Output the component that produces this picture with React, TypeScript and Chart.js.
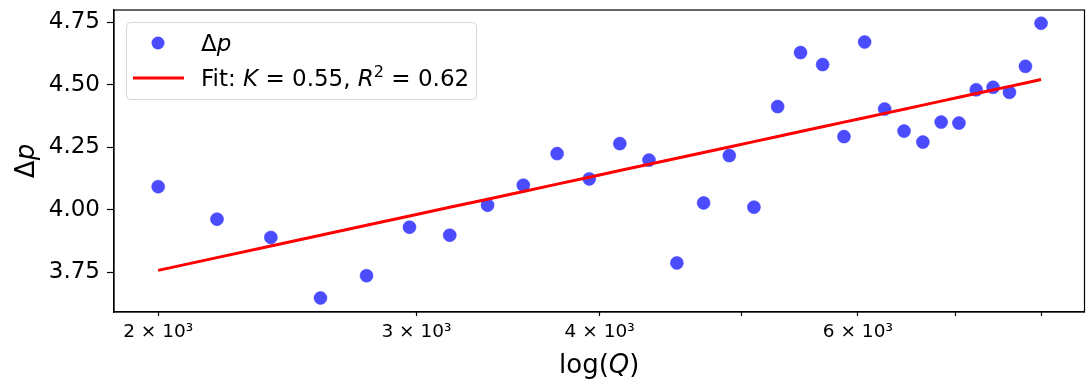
import React, { useEffect, useRef } from "react";
import { Chart, registerables } from "chart.js";

Chart.register(...registerables);

// Data
const Q_VALUES = [
  2000, 2193.5, 2387.1, 2580.6, 2774.2, 2967.7, 3161.3, 3354.8, 3548.4, 3741.9,
  3935.5, 4129.0, 4322.6, 4516.1, 4709.7, 4903.2, 5096.8, 5290.3, 5483.9, 5677.4,
  5871.0, 6064.5, 6258.1, 6451.6, 6645.2, 6838.7, 7032.3, 7225.8, 7419.4, 7612.9,
  7806.5, 8000,
];
const DP_VALUES = [
  4.093, 3.963, 3.89, 3.648, 3.737, 3.931, 3.899, 4.019, 4.099, 4.225,
  4.124, 4.265, 4.199, 3.788, 4.028, 4.217, 4.011, 4.413, 4.629, 4.581,
  4.293, 4.671, 4.403, 4.315, 4.271, 4.351, 4.347, 4.48, 4.49, 4.47,
  4.574, 4.746,
];
const FIT_K = 0.55;
const FIT_B = -0.422;
const FIT_R2 = 0.62;

const X_TICK_VALUES = [2000, 3000, 4000, 5000, 6000, 7000, 8000];
const X_TICK_LABELS = ["2 × 10³", "3 × 10³", "4 × 10³", "", "6 × 10³", "", ""];
const Y_TICK_VALUES = [3.75, 4.0, 4.25, 4.5, 4.75];

const FONT = "'DejaVu Sans', sans-serif";

type Seg = { t: string; it?: boolean; sup?: boolean };

function drawSegs(ctx: CanvasRenderingContext2D, segs: Seg[], x: number, y: number, size: number) {
  let cx = x;
  for (const s of segs) {
    const sz = s.sup ? size * 0.7 : size;
    ctx.font = `${s.it ? "italic " : ""}${sz}px ${FONT}`;
    const dy = s.sup ? -size * 0.38 : 0;
    ctx.fillText(s.t, cx, y + dy);
    cx += ctx.measureText(s.t).width;
  }
  return cx - x;
}

function segsWidth(ctx: CanvasRenderingContext2D, segs: Seg[], size: number) {
  let w = 0;
  for (const s of segs) {
    const sz = s.sup ? size * 0.7 : size;
    ctx.font = `${s.it ? "italic " : ""}${sz}px ${FONT}`;
    w += ctx.measureText(s.t).width;
  }
  return w;
}

const decorPlugin = {
  id: "decor",
  afterDraw(chart: any) {
    const ctx: CanvasRenderingContext2D = chart.ctx;
    const a = chart.chartArea;
    ctx.save();
    // frame
    ctx.strokeStyle = "#000";
    ctx.lineWidth = 1.2;
    ctx.strokeRect(a.left, a.top, a.right - a.left, a.bottom - a.top);

    // legend
    const lx = 126.5, ly = 22.5, lw = 350, lh = 77;
    ctx.beginPath();
    (ctx as any).roundRect(lx, ly, lw, lh, 4);
    ctx.fillStyle = "rgba(255,255,255,0.8)";
    ctx.fill();
    ctx.strokeStyle = "#d6d6d6";
    ctx.lineWidth = 1;
    ctx.stroke();

    ctx.beginPath();
    ctx.arc(158, 43, 6.5, 0, Math.PI * 2);
    ctx.fillStyle = "rgba(0,0,255,0.7)";
    ctx.fill();

    ctx.beginPath();
    ctx.moveTo(133, 78);
    ctx.lineTo(184, 78);
    ctx.strokeStyle = "#ff0000";
    ctx.lineWidth = 3;
    ctx.stroke();

    ctx.fillStyle = "#000";
    ctx.textBaseline = "alphabetic";
    ctx.textAlign = "left";
    const legSize = 23;
    drawSegs(ctx, [{ t: "Δ" }, { t: "p", it: true }], 201, 51, legSize);
    drawSegs(
      ctx,
      [
        { t: "Fit: " },
        { t: "K", it: true },
        { t: " = " + FIT_K.toFixed(2) + ", " },
        { t: "R", it: true },
        { t: "2", sup: true },
        { t: " = " + FIT_R2.toFixed(2) },
      ],
      201,
      86,
      legSize
    );

    // x axis title
    const titleSize = 26;
    const xt: Seg[] = [{ t: "log(" }, { t: "Q", it: true }, { t: ")" }];
    const xw = segsWidth(ctx, xt, titleSize);
    drawSegs(ctx, xt, (a.left + a.right) / 2 - xw / 2, 373, titleSize);

    // y axis title
    const yt: Seg[] = [{ t: "Δ" }, { t: "p", it: true }];
    const yw = segsWidth(ctx, yt, titleSize);
    ctx.translate(34, (a.top + a.bottom) / 2);
    ctx.rotate(-Math.PI / 2);
    drawSegs(ctx, yt, -yw / 2, 0, titleSize);
    ctx.restore();
  },
};

export default function App() {
  const ref = useRef<HTMLCanvasElement | null>(null);
  useEffect(() => {
    document.body.style.margin = "0";
    const canvas = ref.current!;
    const fitValues = Q_VALUES.map((q) => FIT_B + FIT_K * Math.log(q));
    const chart = new Chart(canvas, {
      type: "scatter",
      data: {
        datasets: [
          {
            label: "Fit",
            type: "line",
            data: Q_VALUES.map((q, i) => ({ x: q, y: fitValues[i] })),
            borderColor: "#ff0000",
            borderWidth: 3,
            pointRadius: 0,
            fill: false,
            order: 0,
          } as any,
          {
            label: "Δp",
            data: Q_VALUES.map((q, i) => ({ x: q, y: DP_VALUES[i] })),
            backgroundColor: "rgba(0,0,255,0.7)",
            borderColor: "rgba(60,60,255,0.5)",
            borderWidth: 1,
            pointRadius: 6.5,
            order: 1,
          },
        ],
      },
      options: {
        responsive: false,
        animation: false,
        layout: { padding: { top: 10, right: 2, left: 0, bottom: 0 } },
        plugins: { legend: { display: false }, tooltip: { enabled: false } },
        scales: {
          x: {
            type: "logarithmic",
            min: 1866,
            max: 8565,
            afterBuildTicks: (axis: any) => {
              axis.ticks = X_TICK_VALUES.map((v) => ({ value: v }));
            },
            afterFit: (s: any) => {
              s.height = 72;
              s.paddingLeft = 0;
              s.paddingRight = 0;
            },
            ticks: {
              autoSkip: false,
              maxRotation: 0,
              minRotation: 0,
              color: "#000",
              padding: 5,
              font: { family: FONT, size: 18.5 },
              callback: (v: any) => {
                const i = X_TICK_VALUES.indexOf(Number(v));
                return i >= 0 ? X_TICK_LABELS[i] : "";
              },
            },
            grid: {
              drawOnChartArea: false,
              drawTicks: true,
              tickLength: 4,
              tickColor: "#000",
              tickWidth: 1.2,
            },
            border: { display: true, color: "#000", width: 1.2 },
          },
          y: {
            type: "linear",
            min: 3.592,
            max: 4.799,
            afterBuildTicks: (axis: any) => {
              axis.ticks = Y_TICK_VALUES.map((v) => ({ value: v }));
            },
            afterFit: (s: any) => {
              s.width = 114;
              s.paddingTop = 0;
              s.paddingBottom = 0;
            },
            ticks: {
              color: "#000",
              padding: 7,
              font: { family: FONT, size: 23 },
              callback: (v: any) => Number(v).toFixed(2),
            },
            grid: {
              drawOnChartArea: false,
              drawTicks: true,
              tickLength: 7,
              tickColor: "#000",
              tickWidth: 1.2,
            },
            border: { display: true, color: "#000", width: 1.2 },
          },
        },
      },
      plugins: [decorPlugin],
    });
    return () => chart.destroy();
  }, []);
  return (
    <div style={{ position: "absolute", left: 0, top: 0, width: 1092, height: 384, background: "#fff" }}>
      <canvas ref={ref} width={1092} height={384} style={{ display: "block" }} />
    </div>
  );
}
